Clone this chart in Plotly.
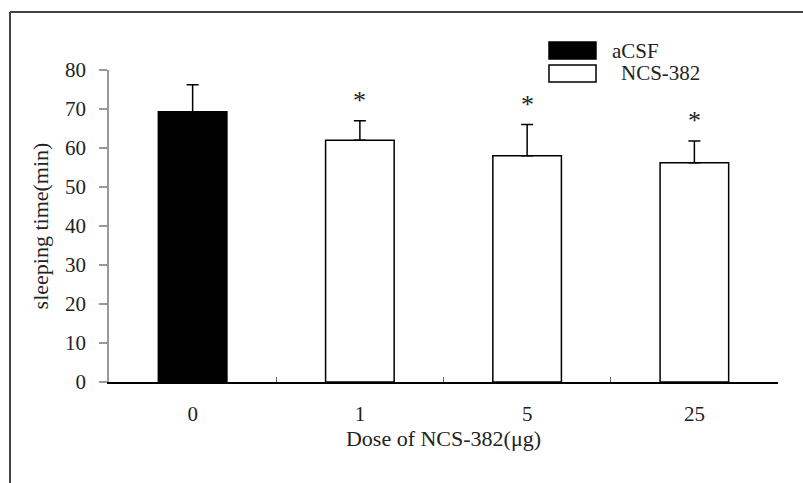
import plotly.graph_objects as go

# ---- data ----
control_cat = ["0"]
control_val = [69.3]
control_err = [6.9]

dose_cats = ["1", "5", "25"]
dose_vals = [62.0, 58.0, 56.2]
dose_errs = [5.0, 8.0, 5.6]

categories = ["0", "1", "5", "25"]
sig_cats = ["1", "5", "25"]
series_names = ["aCSF", "NCS-382"]
y_ticks = [0, 10, 20, 30, 40, 50, 60, 70, 80]

FONT = "Liberation Serif"
W, H = 803, 483
ML, MR, MT, MB = 109, 25, 70, 101
pw = W - ML - MR
ph = H - MT - MB

def px(x):
    return (x - ML) / pw

def py(y):
    return (H - MB - y) / ph

fig = go.Figure()
fig.add_trace(go.Bar(
    x=control_cat, y=control_val, name=series_names[0], width=0.41,
    marker=dict(color="black", line=dict(color="black", width=1.5)),
    error_y=dict(type="data", array=control_err, arrayminus=[0] * len(control_err),
                 symmetric=False, color="black", thickness=1.5, width=6),
))
fig.add_trace(go.Bar(
    x=dose_cats, y=dose_vals, name=series_names[1], width=0.41,
    marker=dict(color="white", line=dict(color="black", width=1.5)),
    error_y=dict(type="data", array=dose_errs, arrayminus=[0] * len(dose_errs),
                 symmetric=False, color="black", thickness=1.5, width=6),
))

# significance stars (annotation x given as category index)
for c, v, e in zip(dose_cats, dose_vals, dose_errs):
    if c in sig_cats:
        fig.add_annotation(x=categories.index(c), y=v + e, text="*", showarrow=False,
                           yshift=20, font=dict(family=FONT, size=26, color="#222"))

shapes = []
# outer frame (top and left)
shapes.append(dict(type="line", xref="paper", yref="paper",
                   x0=px(10), x1=px(803), y0=py(12), y1=py(12),
                   line=dict(color="#444", width=2)))
shapes.append(dict(type="line", xref="paper", yref="paper",
                   x0=px(10), x1=px(10), y0=py(12), y1=py(483),
                   line=dict(color="#444", width=2)))
# manual legend
shapes.append(dict(type="rect", xref="paper", yref="paper",
                   x0=px(549), x1=px(596), y0=py(59), y1=py(42),
                   fillcolor="black", line=dict(color="black", width=1.5)))
shapes.append(dict(type="rect", xref="paper", yref="paper",
                   x0=px(549), x1=px(596), y0=py(82), y1=py(65),
                   fillcolor="white", line=dict(color="black", width=1.5)))
fig.add_annotation(xref="paper", yref="paper", x=px(610), y=py(50.5),
                   xanchor="left", yanchor="middle", showarrow=False,
                   text=series_names[0], font=dict(family=FONT, size=21, color="#222"))
fig.add_annotation(xref="paper", yref="paper", x=px(619), y=py(73.5),
                   xanchor="left", yanchor="middle", showarrow=False,
                   text=series_names[1], font=dict(family=FONT, size=21, color="#222"))

fig.update_layout(
    width=W, height=H,
    margin=dict(l=ML, r=MR, t=MT, b=MB),
    paper_bgcolor="white", plot_bgcolor="white",
    showlegend=False, barmode="overlay",
    shapes=shapes,
    font=dict(family=FONT, size=21, color="#222"),
    xaxis=dict(
        type="category", categoryorder="array", categoryarray=categories,
        range=[-0.5, len(categories) - 0.5],
        showline=True, linecolor="black", linewidth=1.5,
        ticks="inside", tickson="boundaries", ticklen=5, tickcolor="#666", tickwidth=1,
        showgrid=False, zeroline=False,
        ticklabelstandoff=12,
        tickfont=dict(family=FONT, size=21, color="#222"),
        title=dict(text="Dose of NCS-382(μg)", standoff=6,
                   font=dict(family=FONT, size=22, color="#222")),
    ),
    yaxis=dict(
        range=[0, 80], tickvals=y_ticks,
        showline=True, linecolor="#999", linewidth=1.5,
        ticks="outside", ticklen=8, tickcolor="#999", tickwidth=1.5,
        showgrid=False, zeroline=False,
        ticklabelstandoff=9,
        tickfont=dict(family=FONT, size=21, color="#222"),
        title=dict(text="sleeping time(min)", standoff=10,
                   font=dict(family=FONT, size=22, color="#222")),
    ),
)

fig.write_html("out.html")
